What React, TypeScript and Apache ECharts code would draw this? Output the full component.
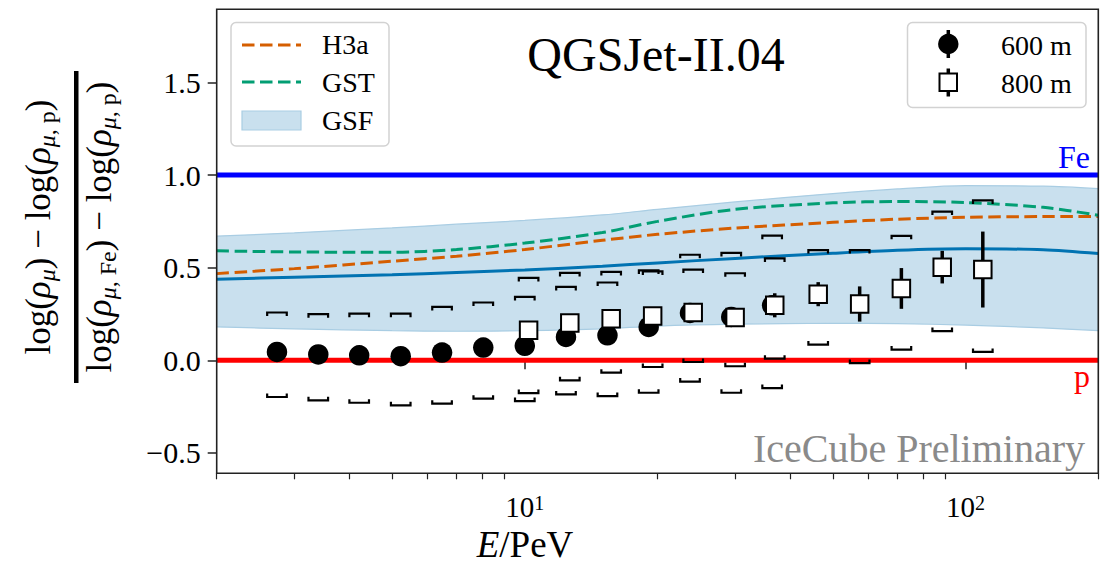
import React, { useEffect, useRef } from "react";
import * as echarts from "echarts";

// ---------- data ----------
const X_MIN = 2;
const X_MAX = 200;
const Y_MIN = -0.61;
const Y_MAX = 1.895;

const MAJOR_TICKS = [10, 100];
const MINOR_TICKS = [2, 3, 4, 5, 6, 7, 8, 9, 20, 30, 40, 50, 60, 70, 80, 90, 200];
const Y_TICKS = [-0.5, 0, 0.5, 1.0, 1.5];

const FE_LEVEL = 1;
const P_LEVEL = 0;

// 600 m
const E600 = [2.74, 3.4, 4.21, 5.23, 6.49, 8.05, 10.0, 12.4, 15.4, 19.1, 23.7, 29.4, 36.4];
const R600 = [0.045, 0.032, 0.027, 0.022, 0.042, 0.069, 0.078, 0.126, 0.135, 0.18, 0.256, 0.234, 0.297];
const ERR600 = [0.012, 0.012, 0.012, 0.013, 0.014, 0.016, 0.018, 0.02, 0.022, 0.025, 0.03, 0.035, 0.045];
const SYS600_HI = [0.258, 0.249, 0.252, 0.252, 0.288, 0.312, 0.342, 0.396, 0.42, 0.485, 0.57, 0.58, 0.673];
const SYS600_LO = [-0.198, -0.216, -0.229, -0.243, -0.234, -0.207, -0.22, -0.184, -0.193, -0.175, -0.115, -0.175, -0.15];

// 800 m
const E800 = [10.2, 12.65, 15.7, 19.5, 24.1, 30.0, 36.9, 46.3, 57.5, 71.5, 88.5, 109.4];
const R800 = [0.162, 0.202, 0.225, 0.239, 0.258, 0.231, 0.297, 0.357, 0.304, 0.388, 0.503, 0.49];
const ERR800 = [0.015, 0.018, 0.02, 0.022, 0.025, 0.035, 0.065, 0.065, 0.095, 0.11, 0.088, 0.205];
const SYS800_HI = [0.445, 0.472, 0.477, 0.48, 0.49, 0.47, 0.55, 0.595, 0.595, 0.672, 0.803, 0.863];
const SYS800_LO = [-0.177, -0.108, -0.067, -0.036, -0.009, -0.032, 0.009, 0.085, -0.015, 0.058, 0.158, 0.045];

// model curves
const MODEL_E = [2, 3, 5, 7, 10, 15, 20, 30, 50, 70, 100, 150, 200];
const GSF_MED = [0.437, 0.449, 0.462, 0.474, 0.488, 0.508, 0.526, 0.55, 0.578, 0.594, 0.602, 0.597, 0.576];
const GSF_HI = [0.67, 0.688, 0.715, 0.735, 0.755, 0.785, 0.815, 0.855, 0.9, 0.925, 0.943, 0.94, 0.927];
const GSF_LO = [0.18, 0.17, 0.16, 0.157, 0.16, 0.17, 0.185, 0.195, 0.2, 0.198, 0.19, 0.175, 0.16];
const H3A = [0.468, 0.495, 0.535, 0.562, 0.598, 0.648, 0.68, 0.714, 0.745, 0.762, 0.772, 0.776, 0.776];
const GST = [0.591, 0.585, 0.583, 0.598, 0.633, 0.69, 0.75, 0.815, 0.85, 0.857, 0.852, 0.826, 0.783];

// ---------- styles ----------
const SERIF = "'Liberation Serif', 'Times New Roman', serif";
const C_ORANGE = "#d55e00";
const C_GREEN = "#029e73";
const C_BLUE = "#0173b2";
const C_BAND = "#c9e0ee";
const C_BAND_EDGE = "#a9cde3";

const lg = (v: number) => Math.log10(v);

export default function App() {
  const ref = useRef<HTMLDivElement>(null);

  useEffect(() => {
    if (!ref.current) return;
    const chart = echarts.init(ref.current, undefined, { renderer: "svg" });

    const curve = (vals: number[]) => MODEL_E.map((e, i) => [lg(e), vals[i]]);

    const brackets: number[][] = [];
    E600.forEach((e, i) => {
      brackets.push([lg(e), SYS600_HI[i], 1]);
      brackets.push([lg(e), SYS600_LO[i], -1]);
    });
    E800.forEach((e, i) => {
      brackets.push([lg(e), SYS800_HI[i], 1]);
      brackets.push([lg(e), SYS800_LO[i], -1]);
    });

    const errRender = (params: any, api: any) => {
      const x = api.value(0);
      const y = api.value(1);
      const err = api.value(2);
      const p1 = api.coord([x, y - err]);
      const p2 = api.coord([x, y + err]);
      return {
        type: "line",
        shape: { x1: p1[0], y1: p1[1], x2: p2[0], y2: p2[1] },
        style: { stroke: "#000", lineWidth: 3.5 },
      };
    };

    const subRich = {
      n: { fontSize: 35, fontFamily: SERIF, color: "#000", lineHeight: 42 },
      i: { fontSize: 35, fontFamily: SERIF, fontStyle: "italic", color: "#000", lineHeight: 42 },
      si: { fontSize: 24, fontFamily: SERIF, fontStyle: "italic", color: "#000", verticalAlign: "bottom", lineHeight: 26 },
      s: { fontSize: 24, fontFamily: SERIF, color: "#000", verticalAlign: "bottom", lineHeight: 26 },
    };

    const option: any = {
      animation: false,
      backgroundColor: "#fff",
      grid: {
        left: 216.7,
        right: 14.7,
        top: 9.3,
        bottom: 91.7,
        show: true,
        z: 10,
        borderColor: "#222",
        borderWidth: 1.6,
        backgroundColor: "transparent",
      },
      xAxis: [
        {
          type: "value",
          min: lg(X_MIN),
          max: lg(X_MAX),
          axisLine: { show: false },
          splitLine: { show: false },
          axisTick: {
            show: true,
            inside: false,
            length: 9,
            lineStyle: { color: "#222", width: 1.5 },
            customValues: MAJOR_TICKS.map(lg),
          },
          axisLabel: {
            customValues: MAJOR_TICKS.map(lg),
            margin: 20,
            formatter: (v: number) => `{b|10}{s|${Math.round(v)}}`,
            rich: {
              b: { fontSize: 29, fontFamily: SERIF, color: "#000", lineHeight: 28 },
              s: { fontSize: 20, fontFamily: SERIF, color: "#000", verticalAlign: "top", lineHeight: 15 },
            },
          },
        },
        {
          type: "value",
          min: lg(X_MIN),
          max: lg(X_MAX),
          position: "bottom",
          axisLine: { show: false },
          splitLine: { show: false },
          axisTick: {
            show: true,
            inside: false,
            length: 6,
            lineStyle: { color: "#222", width: 1.2 },
            customValues: MINOR_TICKS.map(lg),
          },
          axisLabel: { show: false },
        },
      ],
      yAxis: {
        type: "value",
        min: Y_MIN,
        max: Y_MAX,
        axisLine: { show: false },
        splitLine: { show: false },
        axisTick: {
          show: true,
          inside: false,
          length: 9,
          lineStyle: { color: "#222", width: 1.5 },
          customValues: Y_TICKS,
        },
        axisLabel: {
          customValues: Y_TICKS,
          margin: 16,
          fontSize: 30,
          fontFamily: SERIF,
          color: "#000",
          formatter: (v: number) => (v < 0 ? "\u2212" : "") + Math.abs(v).toFixed(1),
        },
      },
      series: [
        // GSF band: upper filled down to 0, then white over lower-to-0
        {
          name: "GSF hi",
          type: "line",
          data: curve(GSF_HI),
          smooth: 0.3,
          symbol: "none",
          silent: true,
          z: 1,
          lineStyle: { color: C_BAND_EDGE, width: 1.2 },
          areaStyle: { color: C_BAND, opacity: 1, origin: P_LEVEL },
        },
        {
          name: "GSF lo",
          type: "line",
          data: curve(GSF_LO),
          smooth: 0.3,
          symbol: "none",
          silent: true,
          z: 1,
          lineStyle: { color: C_BAND_EDGE, width: 1.2 },
          areaStyle: { color: "#fff", opacity: 1, origin: P_LEVEL },
        },
        {
          name: "GSF",
          type: "line",
          data: curve(GSF_MED),
          smooth: 0.3,
          symbol: "none",
          z: 2,
          lineStyle: { color: C_BLUE, width: 3 },
        },
        {
          name: "H3a",
          type: "line",
          data: curve(H3A),
          smooth: 0.3,
          symbol: "none",
          z: 2,
          lineStyle: { color: C_ORANGE, width: 3, type: [12.5, 5.5] },
        },
        {
          name: "GST",
          type: "line",
          data: curve(GST),
          smooth: 0.3,
          symbol: "none",
          z: 2,
          lineStyle: { color: C_GREEN, width: 3, type: [12.5, 5.5] },
        },
        {
          name: "Fe",
          type: "line",
          data: [
            [lg(X_MIN), FE_LEVEL],
            [lg(X_MAX), FE_LEVEL],
          ],
          symbol: "none",
          z: 2,
          lineStyle: { color: "#0000ff", width: 5 },
        },
        {
          name: "p",
          type: "line",
          data: [
            [lg(X_MIN), P_LEVEL],
            [lg(X_MAX), P_LEVEL],
          ],
          symbol: "none",
          z: 2,
          lineStyle: { color: "#ff0000", width: 5 },
        },
        {
          name: "sys",
          type: "custom",
          z: 3,
          data: brackets,
          renderItem: (params: any, api: any) => {
            const p = api.coord([api.value(0), api.value(1)]);
            const d = api.value(2);
            const w = 9.8;
            const h = 3.5;
            return {
              type: "polyline",
              shape: {
                points: [
                  [p[0] - w, p[1] + d * h],
                  [p[0] - w, p[1]],
                  [p[0] + w, p[1]],
                  [p[0] + w, p[1] + d * h],
                ],
              },
              style: { stroke: "#000", lineWidth: 2.2, fill: null },
            };
          },
        },
        {
          name: "err600",
          type: "custom",
          z: 4,
          data: E600.map((e, i) => [lg(e), R600[i], ERR600[i]]),
          renderItem: errRender,
        },
        {
          name: "600 m",
          type: "scatter",
          z: 5,
          data: E600.map((e, i) => [lg(e), R600[i]]),
          symbol: "circle",
          symbolSize: 20.5,
          itemStyle: { color: "#000", opacity: 1 },
        },
        {
          name: "err800",
          type: "custom",
          z: 6,
          data: E800.map((e, i) => [lg(e), R800[i], ERR800[i]]),
          renderItem: errRender,
        },
        {
          name: "800 m",
          type: "scatter",
          z: 7,
          data: E800.map((e, i) => [lg(e), R800[i]]),
          symbol: "rect",
          symbolSize: 17.5,
          itemStyle: { color: "#fff", borderColor: "#000", borderWidth: 2, opacity: 1 },
        },
      ],
      graphic: [
        // title
        {
          type: "text",
          x: 656,
          y: 54,
          z: 20,
          style: {
            text: "QGSJet-II.04",
            fontSize: 48,
            fontFamily: SERIF,
            fill: "#000",
            align: "center",
            verticalAlign: "middle",
          },
        },
        // IceCube Preliminary
        {
          type: "text",
          x: 1085,
          y: 448,
          z: 20,
          style: {
            text: "IceCube Preliminary",
            fontSize: 40,
            fontFamily: SERIF,
            fill: "#8a8a8a",
            align: "right",
            verticalAlign: "middle",
          },
        },
        // Fe / p labels
        {
          type: "text",
          x: 1090,
          y: 157,
          z: 20,
          style: { text: "Fe", fontSize: 32, fontFamily: SERIF, fill: "#0000ff", align: "right", verticalAlign: "middle" },
        },
        {
          type: "text",
          x: 1090,
          y: 376,
          z: 20,
          style: { text: "p", fontSize: 32, fontFamily: SERIF, fill: "#ff0000", align: "right", verticalAlign: "middle" },
        },
        // x axis title
        {
          type: "text",
          x: 525,
          y: 544,
          z: 20,
          style: {
            text: "{i|E}{n|/PeV}",
            align: "center",
            verticalAlign: "middle",
            rich: {
              i: { fontSize: 37, fontFamily: SERIF, fontStyle: "italic", color: "#000", lineHeight: 36 },
              n: { fontSize: 37, fontFamily: SERIF, color: "#000", lineHeight: 36 },
            },
          },
        },
        // y axis title (fraction)
        {
          type: "text",
          x: 38,
          y: 227,
          rotation: Math.PI / 2,
          z: 20,
          style: {
            text: "{n|log(}{i|\u03c1}{si|\u03bc}{n|) \u2212 log(}{i|\u03c1}{si|\u03bc}{s|, p}{n|)}",
            align: "center",
            verticalAlign: "middle",
            rich: subRich,
          },
        },
        {
          type: "rect",
          z: 20,
          shape: { x: 74, y: 71, width: 4.5, height: 312 },
          style: { fill: "#000" },
        },
        {
          type: "text",
          x: 99,
          y: 227,
          rotation: Math.PI / 2,
          z: 20,
          style: {
            text: "{n|log(}{i|\u03c1}{si|\u03bc}{s|, Fe}{n|) \u2212 log(}{i|\u03c1}{si|\u03bc}{s|, p}{n|)}",
            align: "center",
            verticalAlign: "middle",
            rich: subRich,
          },
        },
        // left legend
        {
          type: "rect",
          z: 20,
          shape: { x: 231, y: 22.5, width: 158, height: 123.5, r: 5 },
          style: { fill: "rgba(255,255,255,0.8)", stroke: "#d2d2d2", lineWidth: 1.5 },
        },
        {
          type: "line",
          z: 21,
          shape: { x1: 242, y1: 45, x2: 301, y2: 45 },
          style: { stroke: C_ORANGE, lineWidth: 3, lineDash: [12.5, 5.5] },
        },
        {
          type: "text",
          x: 322,
          y: 44,
          z: 21,
          style: { text: "H3a", fontSize: 28, fontFamily: SERIF, fill: "#000", verticalAlign: "middle" },
        },
        {
          type: "line",
          z: 21,
          shape: { x1: 242, y1: 82, x2: 301, y2: 82 },
          style: { stroke: C_GREEN, lineWidth: 3, lineDash: [12.5, 5.5] },
        },
        {
          type: "text",
          x: 322,
          y: 82,
          z: 21,
          style: { text: "GST", fontSize: 28, fontFamily: SERIF, fill: "#000", verticalAlign: "middle" },
        },
        {
          type: "rect",
          z: 21,
          shape: { x: 242, y: 111, width: 59, height: 19 },
          style: { fill: C_BAND, stroke: C_BAND_EDGE, lineWidth: 1.2 },
        },
        {
          type: "text",
          x: 322,
          y: 120,
          z: 21,
          style: { text: "GSF", fontSize: 28, fontFamily: SERIF, fill: "#000", verticalAlign: "middle" },
        },
        // right legend
        {
          type: "rect",
          z: 20,
          shape: { x: 907.5, y: 22.5, width: 178.5, height: 85, r: 5 },
          style: { fill: "rgba(255,255,255,0.8)", stroke: "#d2d2d2", lineWidth: 1.5 },
        },
        {
          type: "line",
          z: 21,
          shape: { x1: 948.3, y1: 30, x2: 948.3, y2: 58 },
          style: { stroke: "#000", lineWidth: 3.5 },
        },
        {
          type: "circle",
          z: 22,
          shape: { cx: 948.3, cy: 44, r: 10.2 },
          style: { fill: "#000" },
        },
        {
          type: "text",
          x: 1001,
          y: 45,
          z: 21,
          style: { text: "600 m", fontSize: 28, fontFamily: SERIF, fill: "#000", verticalAlign: "middle" },
        },
        {
          type: "line",
          z: 21,
          shape: { x1: 948.3, y1: 68.5, x2: 948.3, y2: 96.5 },
          style: { stroke: "#000", lineWidth: 3.5 },
        },
        {
          type: "rect",
          z: 22,
          shape: { x: 939.5, y: 73.5, width: 17.5, height: 17.5 },
          style: { fill: "#fff", stroke: "#000", lineWidth: 2 },
        },
        {
          type: "text",
          x: 1001,
          y: 83,
          z: 21,
          style: { text: "800 m", fontSize: 28, fontFamily: SERIF, fill: "#000", verticalAlign: "middle" },
        },
      ],
    };

    chart.setOption(option);
    return () => chart.dispose();
  }, []);

  return (
    <div
      ref={ref}
      style={{ position: "fixed", left: 0, top: 0, width: 1113, height: 565, background: "#fff" }}
    />
  );
}
